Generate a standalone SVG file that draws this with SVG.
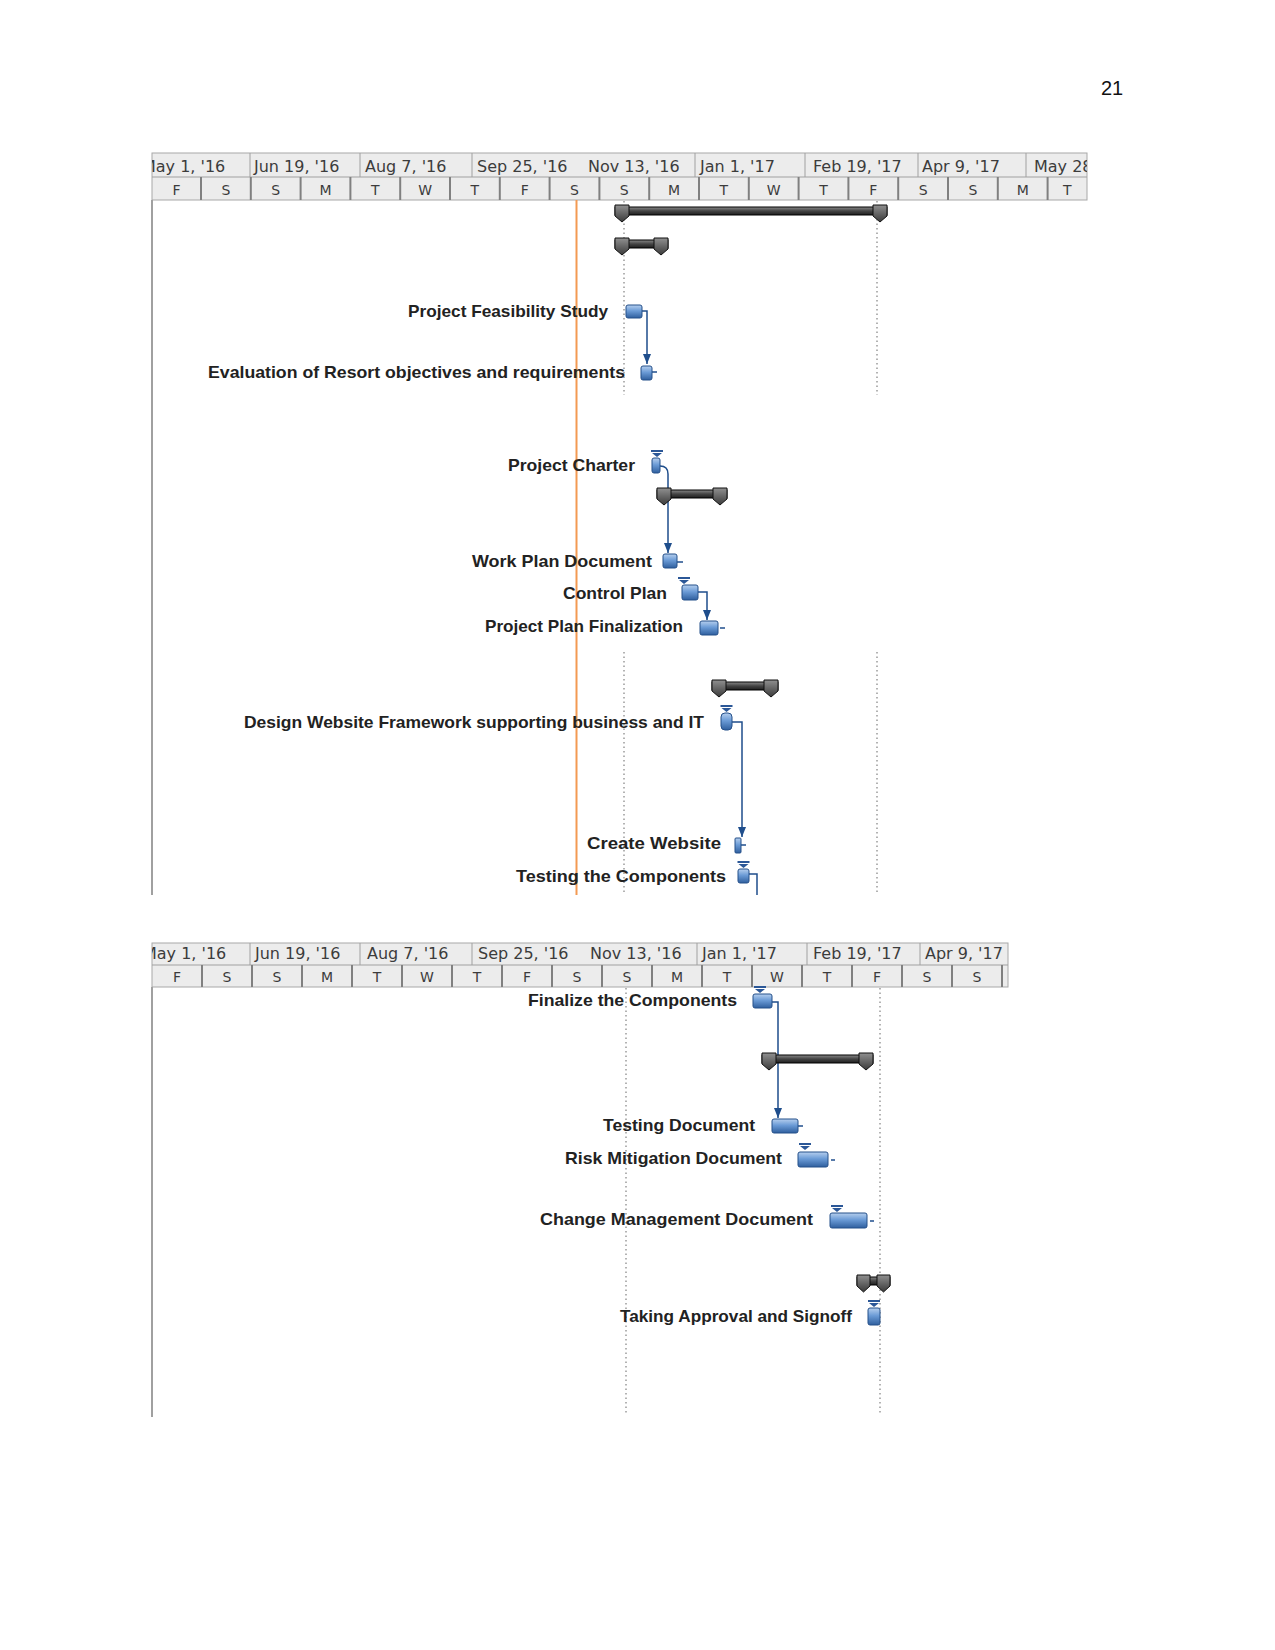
<svg xmlns="http://www.w3.org/2000/svg" width="1275" height="1650" viewBox="0 0 1275 1650">
<defs>
<linearGradient id="gBlue" x1="0" y1="0" x2="0" y2="1">
<stop offset="0" stop-color="#b6cfee"/><stop offset="0.45" stop-color="#6b9bd6"/><stop offset="1" stop-color="#2f5f9e"/>
</linearGradient>
<linearGradient id="gSum" x1="0" y1="0" x2="0" y2="1">
<stop offset="0" stop-color="#8a8a8a"/><stop offset="0.5" stop-color="#444"/><stop offset="1" stop-color="#1e1e1e"/>
</linearGradient>
<linearGradient id="gCap" x1="0" y1="0" x2="0" y2="1">
<stop offset="0" stop-color="#909090"/><stop offset="1" stop-color="#3a3a3a"/>
</linearGradient>
<clipPath id="clipTop"><rect x="152" y="150" width="935" height="52"/></clipPath>
<clipPath id="clipBot"><rect x="152" y="940" width="856" height="50"/></clipPath>
<marker id="arr" viewBox="0 0 10 8" markerWidth="10" markerHeight="8" refX="10" refY="4" orient="auto" markerUnits="userSpaceOnUse">
<path d="M0,0 L10,4 L0,8 Z" fill="#1f4e8c"/>
</marker>
<path id="tm" d="M-6,0 H6 V2 H-6 Z M-5,3 H5 L0,7 Z" fill="#2b5797"/>
</defs>
<style>
.hdr{font-family:"DejaVu Sans",sans-serif;font-size:16px;fill:#3c3c3c}
.day{font-family:"DejaVu Sans",sans-serif;font-size:14px;fill:#3c3c3c;text-anchor:middle}
.lbl{font-family:"Liberation Sans",Arial,sans-serif;font-size:17px;font-weight:bold;fill:#222}
.hbg{fill:#ececec;stroke:#a8a8a8;stroke-width:1}
.d1{stroke:#a0a0a0;stroke-width:1}
.d2{stroke:#808080;stroke-width:2}
.dot{stroke:#9a9a9a;stroke-width:1.5;stroke-dasharray:1.5 3;fill:none}
.edge{stroke:#a0a0a0;stroke-width:2}
.bar{fill:url(#gBlue);stroke:#25508a;stroke-width:1}
.sum{fill:url(#gSum);stroke:#000;stroke-width:1}
.cap{fill:url(#gCap);stroke:#111;stroke-width:1}
.conn{stroke:#1f4e8c;stroke-width:1.5;fill:none}
</style>

<text x="1112" y="95" font-family="Liberation Sans, Arial, sans-serif" font-size="20" text-anchor="middle" fill="#111">21</text>

<!-- ===== Top chart frame ===== -->
<g id="top-frame">
<rect class="hbg" x="152" y="153" width="935" height="47"/>
<line class="d1" x1="152" y1="177" x2="1087" y2="177"/>
<g class="d1">
<line x1="250" y1="153" x2="250" y2="177"/><line x1="360" y1="153" x2="360" y2="177"/><line x1="472" y1="153" x2="472" y2="177"/>
<line x1="695" y1="153" x2="695" y2="177"/><line x1="805" y1="153" x2="805" y2="177"/><line x1="918" y1="153" x2="918" y2="177"/><line x1="1026" y1="153" x2="1026" y2="177"/>
</g>
<g class="d2">
<line x1="201" y1="177" x2="201" y2="200"/><line x1="250.8" y1="177" x2="250.8" y2="200"/><line x1="300.6" y1="177" x2="300.6" y2="200"/><line x1="350.4" y1="177" x2="350.4" y2="200"/><line x1="400.2" y1="177" x2="400.2" y2="200"/><line x1="450" y1="177" x2="450" y2="200"/><line x1="499.8" y1="177" x2="499.8" y2="200"/><line x1="549.6" y1="177" x2="549.6" y2="200"/><line x1="599.4" y1="177" x2="599.4" y2="200"/><line x1="649.2" y1="177" x2="649.2" y2="200"/><line x1="699" y1="177" x2="699" y2="200"/><line x1="748.8" y1="177" x2="748.8" y2="200"/><line x1="798.6" y1="177" x2="798.6" y2="200"/><line x1="848.4" y1="177" x2="848.4" y2="200"/><line x1="898.2" y1="177" x2="898.2" y2="200"/><line x1="948" y1="177" x2="948" y2="200"/><line x1="997.8" y1="177" x2="997.8" y2="200"/><line x1="1047.6" y1="177" x2="1047.6" y2="200"/>
</g>
<g clip-path="url(#clipTop)">
<text class="hdr" x="142" y="172">May 1, '16</text>
<text class="hdr" x="254" y="172">Jun 19, '16</text>
<text class="hdr" x="365" y="172">Aug 7, '16</text>
<text class="hdr" x="477" y="172">Sep 25, '16</text>
<text class="hdr" x="588" y="172">Nov 13, '16</text>
<text class="hdr" x="700" y="172">Jan 1, '17</text>
<text class="hdr" x="813" y="172">Feb 19, '17</text>
<text class="hdr" x="922" y="172">Apr 9, '17</text>
<text class="hdr" x="1034" y="172">May 28, '17</text>
</g>
<g>
<text class="day" x="176.5" y="195">F</text><text class="day" x="225.9" y="195">S</text><text class="day" x="275.7" y="195">S</text><text class="day" x="325.5" y="195">M</text><text class="day" x="375.3" y="195">T</text><text class="day" x="425.1" y="195">W</text><text class="day" x="474.9" y="195">T</text><text class="day" x="524.7" y="195">F</text><text class="day" x="574.5" y="195">S</text><text class="day" x="624.3" y="195">S</text><text class="day" x="674.1" y="195">M</text><text class="day" x="723.9" y="195">T</text><text class="day" x="773.7" y="195">W</text><text class="day" x="823.5" y="195">T</text><text class="day" x="873.3" y="195">F</text><text class="day" x="923.1" y="195">S</text><text class="day" x="972.9" y="195">S</text><text class="day" x="1022.7" y="195">M</text><text class="day" x="1067.3" y="195">T</text>
</g>
<line class="edge" x1="152" y1="200" x2="152" y2="895"/>
<line class="dot" x1="624" y1="201" x2="624" y2="395"/>
<line class="dot" x1="624" y1="652" x2="624" y2="895"/>
<line class="dot" x1="877" y1="201" x2="877" y2="395"/>
<line class="dot" x1="877" y1="652" x2="877" y2="893"/>
<line x1="576.5" y1="200" x2="576.5" y2="895" stroke="#f39a52" stroke-width="2"/>
</g>

<!-- ===== Bottom chart frame ===== -->
<g id="bottom-frame">
<rect class="hbg" x="152" y="943" width="856" height="44"/>
<line class="d1" x1="152" y1="965" x2="1008" y2="965"/>
<g class="d1">
<line x1="250" y1="943" x2="250" y2="965"/><line x1="360" y1="943" x2="360" y2="965"/><line x1="472" y1="943" x2="472" y2="965"/>
<line x1="697" y1="943" x2="697" y2="965"/><line x1="807" y1="943" x2="807" y2="965"/><line x1="920" y1="943" x2="920" y2="965"/>
</g>
<g class="d2">
<line x1="202" y1="965" x2="202" y2="987"/><line x1="252" y1="965" x2="252" y2="987"/><line x1="302" y1="965" x2="302" y2="987"/><line x1="352" y1="965" x2="352" y2="987"/><line x1="402" y1="965" x2="402" y2="987"/><line x1="452" y1="965" x2="452" y2="987"/><line x1="502" y1="965" x2="502" y2="987"/><line x1="552" y1="965" x2="552" y2="987"/><line x1="602" y1="965" x2="602" y2="987"/><line x1="652" y1="965" x2="652" y2="987"/><line x1="702" y1="965" x2="702" y2="987"/><line x1="752" y1="965" x2="752" y2="987"/><line x1="802" y1="965" x2="802" y2="987"/><line x1="852" y1="965" x2="852" y2="987"/><line x1="902" y1="965" x2="902" y2="987"/><line x1="952" y1="965" x2="952" y2="987"/><line x1="1002" y1="965" x2="1002" y2="987"/>
</g>
<g clip-path="url(#clipBot)">
<text class="hdr" x="143" y="959">May 1, '16</text>
<text class="hdr" x="255" y="959">Jun 19, '16</text>
<text class="hdr" x="367" y="959">Aug 7, '16</text>
<text class="hdr" x="478" y="959">Sep 25, '16</text>
<text class="hdr" x="590" y="959">Nov 13, '16</text>
<text class="hdr" x="702" y="959">Jan 1, '17</text>
<text class="hdr" x="813" y="959">Feb 19, '17</text>
<text class="hdr" x="925" y="959">Apr 9, '17</text>
</g>
<g>
<text class="day" x="177" y="982">F</text><text class="day" x="227" y="982">S</text><text class="day" x="277" y="982">S</text><text class="day" x="327" y="982">M</text><text class="day" x="377" y="982">T</text><text class="day" x="427" y="982">W</text><text class="day" x="477" y="982">T</text><text class="day" x="527" y="982">F</text><text class="day" x="577" y="982">S</text><text class="day" x="627" y="982">S</text><text class="day" x="677" y="982">M</text><text class="day" x="727" y="982">T</text><text class="day" x="777" y="982">W</text><text class="day" x="827" y="982">T</text><text class="day" x="877" y="982">F</text><text class="day" x="927" y="982">S</text><text class="day" x="977" y="982">S</text>
</g>
<line class="edge" x1="152" y1="987" x2="152" y2="1417"/>
<line class="dot" x1="626" y1="988" x2="626" y2="1413"/>
<line class="dot" x1="880" y1="988" x2="880" y2="1413"/>
</g>

<!-- ===== Connectors ===== -->
<g id="connectors">
<path class="conn" d="M642,311 H647 V364" marker-end="url(#arr)"/>
<path class="conn" d="M652,372 H657"/>
<path class="conn" d="M660,466 Q668,466 668,474 V553" marker-end="url(#arr)"/>
<path class="conn" d="M677,562 H683"/>
<path class="conn" d="M698,592 H707 V620" marker-end="url(#arr)"/>
<path class="conn" d="M720,628 H725"/>
<path class="conn" d="M732,722 H742 V837" marker-end="url(#arr)"/>
<path class="conn" d="M741,845 H746"/>
<path class="conn" d="M749,874 H757 V895"/>
<path class="conn" d="M772,1002 H778 V1118" marker-end="url(#arr)"/>
<path class="conn" d="M798,1126 H803"/>
<path class="conn" d="M831,1160 H835"/>
<path class="conn" d="M870,1221 H874"/>
</g>

<!-- ===== Summary bars ===== -->
<g id="summary-project">
<rect class="sum" x="615" y="207" width="272" height="8"/>
<path class="cap" d="M615,205 H629 V216 L622,222 L615,216 Z"/>
<path class="cap" d="M873,205 H887 V216 L880,222 L873,216 Z"/>
</g>
<g id="summary-initiation">
<rect class="sum" x="615" y="240" width="53" height="8"/>
<path class="cap" d="M615,238 H629 V249 L622,255 L615,249 Z"/>
<path class="cap" d="M654,238 H668 V249 L661,255 L654,249 Z"/>
</g>
<g id="summary-planning">
<rect class="sum" x="657" y="490" width="70" height="8"/>
<path class="cap" d="M657,488 H671 V499 L664,505 L657,499 Z"/>
<path class="cap" d="M713,488 H727 V499 L720,505 L713,499 Z"/>
</g>
<g id="summary-execution">
<rect class="sum" x="712" y="682" width="66" height="8"/>
<path class="cap" d="M712,680 H726 V691 L719,697 L712,691 Z"/>
<path class="cap" d="M764,680 H778 V691 L771,697 L764,691 Z"/>
</g>
<g id="summary-documents">
<rect class="sum" x="762" y="1055" width="111" height="8"/>
<path class="cap" d="M762,1053 H776 V1064 L769,1070 L762,1064 Z"/>
<path class="cap" d="M859,1053 H873 V1064 L866,1070 L859,1064 Z"/>
</g>
<g id="summary-closure">
<rect class="sum" x="857" y="1277" width="33" height="8"/>
<path class="cap" d="M857,1275 H870 V1286 L863.5,1292 L857,1286 Z"/>
<path class="cap" d="M877,1275 H890 V1286 L883.5,1292 L877,1286 Z"/>
</g>

<!-- ===== Tasks ===== -->
<g id="task-feasibility">
<text class="lbl" x="408" y="317" textLength="200" lengthAdjust="spacingAndGlyphs">Project Feasibility Study</text>
<rect class="bar" x="626" y="305" width="16" height="13" rx="2"/>
</g>
<g id="task-evaluation">
<text class="lbl" x="208" y="378" textLength="417" lengthAdjust="spacingAndGlyphs">Evaluation of Resort objectives and requirements</text>
<rect class="bar" x="641" y="366" width="11" height="14" rx="2"/>
</g>
<g id="task-charter">
<text class="lbl" x="508" y="471" textLength="127" lengthAdjust="spacingAndGlyphs">Project Charter</text>
<use href="#tm" x="657" y="450"/>
<rect class="bar" x="652" y="458" width="8" height="15" rx="2"/>
</g>
<g id="task-workplan">
<text class="lbl" x="472" y="567" textLength="180" lengthAdjust="spacingAndGlyphs">Work Plan Document</text>
<rect class="bar" x="663" y="554" width="14" height="14" rx="2"/>
</g>
<g id="task-control">
<text class="lbl" x="563" y="599" textLength="104" lengthAdjust="spacingAndGlyphs">Control Plan</text>
<use href="#tm" x="684" y="577"/>
<rect class="bar" x="682" y="585" width="16" height="15" rx="2"/>
</g>
<g id="task-finalization">
<text class="lbl" x="485" y="632" textLength="198" lengthAdjust="spacingAndGlyphs">Project Plan Finalization</text>
<rect class="bar" x="700" y="621" width="18" height="14" rx="2"/>
</g>
<g id="task-design">
<text class="lbl" x="244" y="728" textLength="460" lengthAdjust="spacingAndGlyphs">Design Website Framework supporting business and IT</text>
<use href="#tm" x="726.5" y="705"/>
<rect class="bar" x="721" y="713" width="11" height="17" rx="4"/>
</g>
<g id="task-create">
<text class="lbl" x="587" y="849" textLength="134" lengthAdjust="spacingAndGlyphs">Create Website</text>
<rect class="bar" x="735" y="838" width="6" height="15" rx="1"/>
</g>
<g id="task-testing">
<text class="lbl" x="516" y="882" textLength="210" lengthAdjust="spacingAndGlyphs">Testing the Components</text>
<use href="#tm" x="743.5" y="861"/>
<rect class="bar" x="738" y="869" width="11" height="14" rx="2"/>
</g>
<g id="task-finalize">
<text class="lbl" x="528" y="1006" textLength="209" lengthAdjust="spacingAndGlyphs">Finalize the Components</text>
<use href="#tm" x="760" y="986"/>
<rect class="bar" x="753" y="994" width="19" height="14" rx="2"/>
</g>
<g id="task-testing-doc">
<text class="lbl" x="603" y="1131" textLength="152" lengthAdjust="spacingAndGlyphs">Testing Document</text>
<rect class="bar" x="772" y="1119" width="26" height="14" rx="2"/>
</g>
<g id="task-risk">
<text class="lbl" x="565" y="1164" textLength="217" lengthAdjust="spacingAndGlyphs">Risk Mitigation Document</text>
<use href="#tm" x="805" y="1143"/>
<rect class="bar" x="798" y="1152" width="30" height="15" rx="2"/>
</g>
<g id="task-change">
<text class="lbl" x="540" y="1225" textLength="273" lengthAdjust="spacingAndGlyphs">Change Management Document</text>
<use href="#tm" x="837" y="1205"/>
<rect class="bar" x="830" y="1213" width="37" height="15" rx="2"/>
</g>
<g id="task-signoff">
<text class="lbl" x="620" y="1322" textLength="232" lengthAdjust="spacingAndGlyphs">Taking Approval and Signoff</text>
<use href="#tm" x="874" y="1300"/>
<rect class="bar" x="868" y="1308" width="12" height="17" rx="2"/>
</g>
</svg>
